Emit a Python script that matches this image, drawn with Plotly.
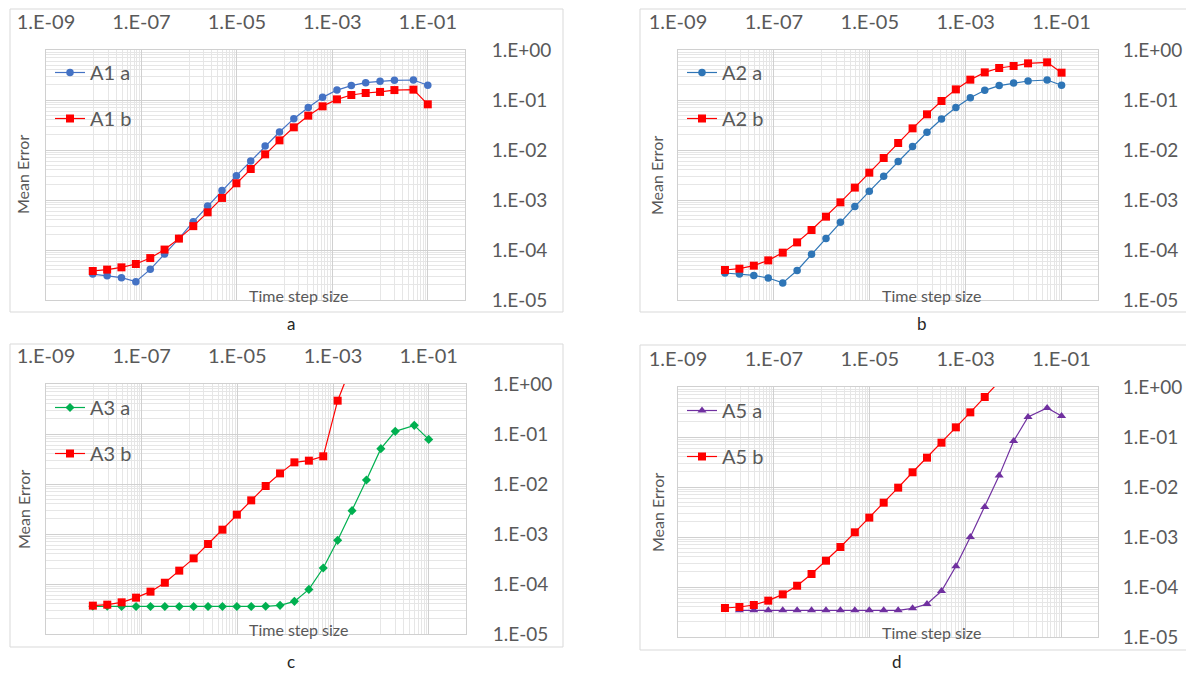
import plotly.graph_objects as go

# page is 1194x675; the html body adds an 8px margin, so the figure is 8px smaller
OFF = 8
W, H = 1194 - OFF, 675 - OFF

# ---- data ----
time_step = [9.54e-9, 1.91e-8, 3.81e-8, 7.63e-8, 1.53e-7, 3.05e-7, 6.10e-7, 1.22e-6,
             2.44e-6, 4.88e-6, 9.77e-6, 1.95e-5, 3.91e-5, 7.81e-5, 1.56e-4, 3.13e-4,
             6.25e-4, 1.25e-3, 2.5e-3, 5e-3, 1e-2, 2e-2, 5e-2, 1e-1]

A1_a = [3.3e-5, 3.07e-5, 2.8e-5, 2.33e-5, 4.1e-5, 8.3e-5, 1.69e-4, 3.69e-4, 7.6e-4, 1.54e-3,
        3.07e-3, 6.0e-3, 1.2e-2, 2.29e-2, 4.23e-2, 7.1e-2, 0.113, 0.158, 0.194, 0.222,
        0.236, 0.247, 0.251, 0.197]
A1_b = [3.8e-5, 4.05e-5, 4.5e-5, 5.25e-5, 6.9e-5, 1.02e-4, 1.69e-4, 3.0e-4, 5.67e-4, 1.1e-3,
        2.16e-3, 4.17e-3, 8.2e-3, 1.56e-2, 2.84e-2, 4.86e-2, 7.47e-2, 0.103, 0.126, 0.138,
        0.145, 0.158, 0.161, 0.082]

A2_a = [3.47e-5, 3.3e-5, 3.1e-5, 2.75e-5, 2.2e-5, 3.9e-5, 8.2e-5, 1.69e-4, 3.6e-4, 7.4e-4,
        1.49e-3, 2.97e-3, 5.9e-3, 1.18e-2, 2.26e-2, 4.17e-2, 7.1e-2, 0.111, 0.156, 0.194,
        0.219, 0.24, 0.251, 0.197]
A2_b = [3.98e-5, 4.23e-5, 4.86e-5, 6.2e-5, 8.85e-5, 1.42e-4, 2.51e-4, 4.64e-4, 8.98e-4, 1.77e-3,
        3.52e-3, 6.92e-3, 1.38e-2, 2.71e-2, 5.17e-2, 9.55e-2, 0.163, 0.255, 0.357, 0.437,
        0.479, 0.541, 0.567, 0.352]

A3_a = [3.58e-5, 3.58e-5, 3.55e-5, 3.55e-5, 3.55e-5, 3.55e-5, 3.55e-5, 3.55e-5, 3.55e-5, 3.55e-5,
        3.55e-5, 3.55e-5, 3.58e-5, 3.74e-5, 4.5e-5, 7.8e-5, 2.09e-4, 7.47e-4, 2.93e-3, 1.2e-2,
        5.09e-2, 0.113, 0.149, 0.078]
A3_b = [3.69e-5, 3.86e-5, 4.3e-5, 5.33e-5, 7.03e-5, 1.06e-4, 1.85e-4, 3.26e-4, 6.3e-4, 1.22e-3,
        2.44e-3, 4.71e-3, 9.12e-3, 1.63e-2, 2.71e-2, 2.93e-2, 3.58e-2, 0.464, 2.5, None,
        None, None, None, None]

A5_a = [None, 3.42e-5, 3.42e-5, 3.42e-5, 3.42e-5, 3.42e-5, 3.42e-5, 3.42e-5, 3.42e-5, 3.42e-5,
        3.42e-5, 3.42e-5, 3.42e-5, 3.74e-5, 4.57e-5, 8.3e-5, 2.59e-4, 1.0e-3, 3.98e-3, 1.69e-2,
        8.3e-2, 0.251, 0.38, 0.263]
A5_b = [3.8e-5, 3.98e-5, 4.37e-5, 5.33e-5, 7.13e-5, 1.06e-4, 1.82e-4, 3.36e-4, 6.3e-4, 1.24e-3,
        2.44e-3, 4.86e-3, 9.7e-3, 1.97e-2, 3.86e-2, 7.7e-2, 0.156, 0.311, 0.631, 1.28,
        None, None, None, None]

x_tick_vals = [1e-9, 1e-7, 1e-5, 1e-3, 1e-1]
x_tick_text = ["1.E-09", "1.E-07", "1.E-05", "1.E-03", "1.E-01"]
y_tick_vals = [1e-5, 1e-4, 1e-3, 1e-2, 1e-1, 1e0]
y_tick_text = ["1.E-05", "1.E-04", "1.E-03", "1.E-02", "1.E-01", "1.E+00"]
captions = ["a", "b", "c", "d"]

# ---- styling ----
FONT = "Lato"
TXT = "#595959"
MAJ = "#d0d0d0"
MIN = "#e6e6e6"

# minor grid positions (Excel-style)
x_minor = []
for n in range(-9, 0, 2):
    for k in range(1, 10):
        x_minor.append(k * 10 ** (n + 1))
y_minor = []
for n in range(-5, 0):
    for k in range(2, 10):
        y_minor.append(k * 10 ** n)

panels = [
    dict(plot=(46, 465, 50, 300), box=(10, 563, 9, 312), cap=(291, 324), leg=(50, 53),
         mean=(23, 175), tss=(298, 295), xr=-0.22, ysd=22),
    dict(plot=(678, 1098, 50, 300), box=(640, 1193, 9, 312), cap=(922, 324), leg=(682, 53),
         mean=(657, 175), tss=(931, 295), xr=-0.24, ysd=20),
    dict(plot=(46, 466, 384, 634), box=(10, 563, 344, 647), cap=(291, 661), leg=(50, 388),
         mean=(23, 510), tss=(298, 629), xr=-0.22, ysd=22),
    dict(plot=(678, 1098, 387, 637), box=(640, 1193, 345, 650), cap=(897, 661), leg=(682, 391),
         mean=(657, 512), tss=(931, 632), xr=-0.24, ysd=20),
]

series = [
    [("A1 a", A1_a, "#4472C4", "circle", 7.5), ("A1 b", A1_b, "#FF0000", "square", 8)],
    [("A2 a", A2_a, "#2E75B6", "circle", 7.5), ("A2 b", A2_b, "#FF0000", "square", 8)],
    [("A3 a", A3_a, "#00B050", "diamond", 7), ("A3 b", A3_b, "#FF0000", "square", 8)],
    [("A5 a", A5_a, "#7030A0", "triangle-up", 8), ("A5 b", A5_b, "#FF0000", "square", 8)],
]

fig = go.Figure()
layout = dict(width=W, height=H, margin=dict(l=0, r=0, t=0, b=0, autoexpand=False),
              paper_bgcolor="white", plot_bgcolor="white",
              font=dict(family=FONT, color=TXT), showlegend=True)
annotations = []
shapes = []

def px(x):
    return (x - OFF) / W

def py(y):
    return 1 - (y - OFF) / H

for i, p in enumerate(panels):
    sfx = "" if i == 0 else str(i + 1)
    leg = "legend" if i == 0 else "legend" + str(i + 1)
    l, r, t, b = p["plot"]
    for j, (name, vals, col, sym, sz) in enumerate(series[i]):
        fig.add_trace(go.Scatter(
            x=time_step, y=vals, name=name, mode="lines+markers",
            line=dict(color=col, width=1.2),
            marker=dict(symbol=sym, size=sz, color=col),
            xaxis="x" + sfx, yaxis="y" + sfx, legend=leg,
            legendgroup=name, connectgaps=False))
    layout["xaxis" + sfx] = dict(
        type="log", domain=[px(l), px(r)], range=[-9, p["xr"]], anchor="y" + sfx,
        side="top", tickmode="array", tickvals=x_tick_vals, ticktext=x_tick_text,
        ticks="", ticklabelstandoff=12, tickfont=dict(size=20, color=TXT, family=FONT),
        showgrid=True, gridcolor=MAJ, gridwidth=1, automargin=False,
        minor=dict(tickmode="array", tickvals=x_minor, showgrid=True, gridcolor=MIN, ticks=""),
        showline=True, linecolor=MAJ, linewidth=1, mirror=True, zeroline=False)
    layout["yaxis" + sfx] = dict(
        type="log", domain=[py(b), py(t)], range=[-5, 0], anchor="x" + sfx,
        side="right", tickmode="array", tickvals=y_tick_vals, ticktext=y_tick_text,
        ticks="", ticklabelstandoff=p["ysd"], tickfont=dict(size=19, color=TXT, family=FONT),
        showgrid=True, gridcolor=MAJ, gridwidth=1, automargin=False,
        minor=dict(tickmode="array", tickvals=y_minor, showgrid=True, gridcolor=MIN, ticks=""),
        showline=True, linecolor=MAJ, linewidth=1, mirror=True, zeroline=False)
    lx, ly = p["leg"]
    layout[leg] = dict(x=px(lx), y=py(ly), xanchor="left", yanchor="top",
                       bgcolor="rgba(0,0,0,0)", font=dict(size=20, color=TXT, family=FONT),
                       tracegroupgap=17, traceorder="grouped", itemwidth=30)
    bl, br, bt, bb = p["box"]
    shapes.append(dict(type="rect", xref="paper", yref="paper",
                       x0=px(bl), x1=px(br), y0=py(bb), y1=py(bt),
                       line=dict(color="#d9d9d9", width=1), layer="below"))
    mx, my = p["mean"]
    annotations.append(dict(x=px(mx), y=py(my), xref="paper", yref="paper",
                            xanchor="center", yanchor="middle",
                            text="Mean Error", textangle=-90, showarrow=False,
                            font=dict(size=16, color=TXT, family=FONT)))
    tx, ty = p["tss"]
    annotations.append(dict(x=px(tx), y=py(ty), xref="paper", yref="paper",
                            xanchor="center", yanchor="middle",
                            text="Time step size", showarrow=False,
                            font=dict(size=16, color=TXT, family=FONT)))
    cx, cy = p["cap"]
    annotations.append(dict(x=px(cx), y=py(cy), xref="paper", yref="paper",
                            xanchor="center", yanchor="middle",
                            text=captions[i], showarrow=False,
                            font=dict(size=17, color="#262626", family=FONT)))

layout["annotations"] = annotations
layout["shapes"] = shapes
fig.update_layout(**layout)
fig.write_html("out.html")
